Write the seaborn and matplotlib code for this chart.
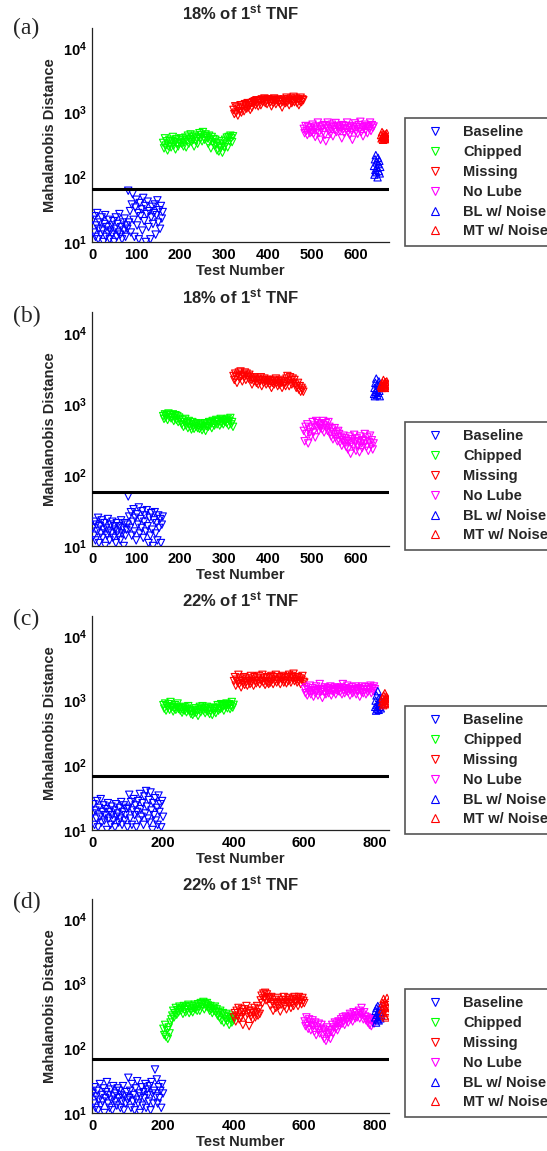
import numpy as np
import pandas as pd
import matplotlib
matplotlib.use("Agg")
import matplotlib.pyplot as plt
import seaborn as sns
from matplotlib.lines import Line2D
from matplotlib.ticker import NullLocator

# ---------------- data ----------------
categories = ["Baseline", "Chipped", "Missing", "No Lube", "BL w/ Noise", "MT w/ Noise"]
group_colors = ["#0000ff", "#00ff00", "#ff0000", "#ff00ff", "#0000ff", "#ff0000"]
group_markers = ["v", "v", "v", "v", "^", "^"]

panel_letters = ["(a)", "(b)", "(c)", "(d)"]
panel_titles = ["18% of 1$^{st}$ TNF", "18% of 1$^{st}$ TNF",
                "22% of 1$^{st}$ TNF", "22% of 1$^{st}$ TNF"]
thresholds = [66, 57, 68, 68]
x_max = [675, 675, 840, 840]
x_ticks_ab = [0, 100, 200, 300, 400, 500, 600]
x_ticks_cd = [0, 200, 400, 600, 800]
y_ticks = [10, 100, 1000, 10000]
y_tick_labels = ["$10^{1}$", "$10^{2}$", "$10^{3}$", "$10^{4}$"]

# test-number ranges of each group (first, last)
ranges_ab = [(1, 160), (161, 320), (321, 480), (481, 640), (641, 655), (657, 672)]
ranges_cd = [(1, 200), (201, 400), (401, 600), (601, 800), (801, 818), (821, 838)]

# panel (a)
a_baseline = [22, 14, 25, 12, 18, 28, 11, 16, 20, 13, 24, 15, 10, 19, 26, 12, 17, 14, 22, 11,
              15, 18, 13, 21, 10, 16, 24, 12, 19, 14, 27, 13, 17, 11, 20, 15, 23, 12, 18, 16,
              62, 20, 30, 14, 38, 55, 22, 12, 34, 45, 18, 28, 11, 40, 25, 32, 15, 48, 21, 36,
              10, 27, 42, 17, 30, 11, 24, 35, 19, 28, 38, 13, 26, 44, 20, 31, 16, 36, 23, 29]
a_chipped = [340, 280, 400, 310, 360, 260, 300, 380, 330, 290,
             360, 420, 310, 350, 270, 390, 330, 300, 370, 340,
             400, 330, 380, 300, 350, 410, 290, 370, 440, 330,
             390, 460, 350, 420, 380, 300, 440, 360, 400, 330,
             420, 480, 390, 450, 360, 500, 410, 380, 460, 430,
             400, 330, 440, 370, 280, 420, 350, 390, 310, 380,
             330, 260, 340, 250, 300, 280, 360, 240, 320, 290,
             380, 330, 410, 290, 420, 360, 440, 400, 350, 430]
a_missing = [1100, 950, 1250, 1000, 1200, 900, 1150, 1050, 1300, 1000,
             1200, 1300, 1050, 1350, 1250, 1150, 1400, 1200, 1300, 1100,
             1400, 1200, 1450, 1350, 1500, 1300, 1550, 1400, 1250, 1500,
             1550, 1300, 1600, 1450, 1500, 1650, 1400, 1550, 1350, 1600,
             1500, 1600, 1450, 1250, 1550, 1400, 1650, 1500, 1350, 1550,
             1600, 1450, 1500, 1350, 1550, 1200, 1450, 1600, 1500, 1400,
             1700, 1450, 1600, 1300, 1550, 1650, 1400, 1500, 1750, 1450,
             1550, 1650, 1400, 1600, 1300, 1500, 1700, 1450, 1600, 1550]
a_nolube = [560, 480, 620, 520, 450, 600, 540, 480, 580, 500,
            650, 470, 560, 420, 610, 530, 700, 480, 590, 380,
            550, 620, 500, 640, 450, 360, 580, 700, 520, 610,
            470, 560, 650, 430, 600, 540, 690, 500, 620, 560,
            600, 520, 580, 400, 640, 560, 480, 620, 540, 700,
            500, 580, 450, 620, 530, 380, 600, 560, 680, 510,
            590, 470, 640, 550, 720, 500, 600, 430, 580, 650,
            540, 620, 480, 600, 560, 700, 520, 640, 580, 610]
a_bl_noise = [150, 110, 190, 130, 220, 120, 170, 140, 100, 200, 160, 125, 180, 115, 145]
a_mt_noise = [450, 400, 500, 420, 380, 470, 430, 390, 410, 460, 400, 440, 480, 420, 390]

# panel (b)
b_baseline = [18, 14, 22, 12, 20, 16, 25, 11, 19, 15, 23, 13, 17, 21, 10, 18, 14, 24, 16, 12,
              20, 15, 22, 13, 19, 17, 11, 21, 16, 14, 19, 12, 23, 15, 18, 10, 21, 14, 17, 20,
              50, 26, 18, 30, 14, 22, 33, 16, 25, 12, 28, 20, 35, 15, 24, 18, 31, 13, 22, 27,
              16, 32, 19, 11, 25, 14, 29, 17, 10, 23, 30, 15, 21, 12, 27, 18, 24, 11, 20, 26]
b_chipped = [680, 620, 720, 650, 700, 600, 740, 660, 700, 630,
             660, 720, 580, 640, 700, 600, 680, 560, 650, 620,
             560, 520, 600, 480, 560, 620, 500, 540, 460, 580,
             520, 480, 440, 560, 500, 450, 520, 480, 540, 460,
             500, 450, 520, 480, 430, 500, 460, 540, 420, 490,
             520, 480, 560, 500, 540, 460, 580, 520, 500, 560,
             600, 520, 580, 560, 500, 620, 540, 600, 520, 580,
             560, 600, 540, 620, 500, 580, 640, 520, 560, 480]
b_missing = [2500, 2200, 2700, 2400, 2000, 2600, 2800, 2300, 2900, 2500,
             2100, 2600, 2400, 2800, 2200, 2700, 2500, 2300, 2600, 2400,
             2200, 1900, 2300, 2100, 2400, 2200, 2000, 2300, 1900, 2200,
             2100, 2400, 1800, 2200, 2000, 2300, 2100, 1900, 2200, 2000,
             2200, 1900, 2100, 1700, 2000, 2200, 1900, 2100, 2300, 2000,
             1800, 2100, 1900, 2200, 2000, 1700, 2100, 1900, 2000, 1800,
             2300, 2500, 2100, 1800, 2400, 2200, 1900, 2300, 2000, 2200,
             1900, 1700, 1800, 2000, 1600, 1800, 1500, 1700, 1600, 1500]
b_nolube = [420, 300, 480, 380, 520, 280, 450, 400, 350, 470,
            560, 400, 500, 340, 580, 470, 540, 420, 500, 460,
            520, 440, 580, 400, 500, 540, 460, 420, 560, 480,
            400, 350, 440, 320, 380, 460, 340, 400, 300, 420,
            380, 290, 340, 260, 310, 360, 280, 330, 250, 300,
            230, 300, 350, 200, 280, 320, 250, 370, 290, 220,
            330, 260, 300, 210, 350, 280, 240, 310, 270, 380,
            300, 250, 340, 220, 290, 360, 260, 310, 230, 280]
b_bl_noise = [1400, 1700, 1300, 2000, 1500, 2300, 1600, 1350, 1900, 1450, 1800, 2100, 1550, 1300, 1750]
b_mt_noise = [1800, 1900, 1700, 2000, 1850, 2200, 1750, 1950, 1800, 2050, 1700, 1900, 2100, 1850, 1950]

# panel (c)
c_baseline = [18, 25, 12, 20, 15, 28, 11, 22, 16, 30, 13, 19, 24, 14, 17, 21, 10, 26, 15, 19,
              12, 23, 17, 14, 20, 11, 25, 16, 18, 13, 22, 15, 27, 12, 19, 24, 14, 17, 21, 11,
              22, 35, 15, 27, 12, 20, 30, 17, 24, 11, 19, 28, 14, 36, 21, 16, 26, 12, 33, 18,
              40, 23, 15, 29, 13, 38, 20, 10, 26, 17, 31, 14, 22, 12, 34, 19, 25, 11, 28, 16]
c_chipped = [850, 750, 900, 700, 820, 780, 880, 720, 950, 800,
             800, 680, 760, 850, 720, 800, 900, 740, 780, 700,
             760, 650, 720, 800, 700, 780, 660, 740, 820, 700,
             700, 620, 680, 600, 720, 650, 760, 640, 700, 580,
             720, 800, 660, 740, 820, 700, 760, 640, 720, 800,
             680, 750, 620, 700, 780, 600, 730, 680, 760, 640,
             760, 850, 700, 800, 740, 880, 760, 820, 700, 850,
             800, 900, 760, 850, 880, 740, 820, 950, 780, 860]
c_missing = [2000, 2300, 1700, 2100, 1900, 2500, 1800, 2200, 1600, 2000,
             1850, 2300, 1750, 2100, 1950, 1700, 2200, 2000, 1800, 2400,
             1900, 2100, 1700, 2300, 2000, 1850, 2200, 1950, 2400, 1800,
             2100, 2000, 2500, 1900, 2200, 1750, 2000, 2300, 1900, 1800,
             2200, 1900, 2400, 2100, 1800, 2300, 2000, 2500, 1900, 2100,
             2000, 2300, 1800, 2200, 2100, 2400, 1900, 2000, 2200, 1850,
             2300, 2000, 2500, 2100, 1900, 2400, 2200, 2600, 2000, 2300,
             2100, 1900, 2300, 2000, 2200, 1800, 2100, 2400, 1950, 1900]
c_nolube = [1500, 1300, 1600, 1200, 1450, 1350, 1700, 1250, 1400, 1550,
            1150, 1450, 1300, 1650, 1400, 1200, 1500, 1800, 1350, 1450,
            1100, 1500, 1350, 1600, 1250, 1400, 1550, 1300, 1450, 1650,
            1200, 1400, 1500, 1350, 1600, 1250, 1450, 1550, 1400, 1500,
            1350, 1600, 1250, 1800, 1450, 1300, 1550, 1400, 1700, 1350,
            1500, 1200, 1450, 1600, 1300, 1500, 1400, 1650, 1250, 1450,
            1400, 1550, 1150, 1500, 1350, 1650, 1300, 1450, 1600, 1250,
            1500, 1350, 1600, 1450, 1700, 1300, 1550, 1400, 1650, 1500]
c_bl_noise = [800, 1000, 700, 1200, 850, 750, 1400, 900, 720, 1100, 800, 950, 1050, 760, 880]
c_mt_noise = [950, 1100, 850, 1200, 1000, 900, 1300, 1050, 880, 1150, 980, 1050, 1100, 920, 1000]

# panel (d)
d_baseline = [20, 14, 25, 12, 18, 22, 11, 16, 28, 13, 19, 15, 24, 10, 17, 21, 30, 14, 19, 12,
              23, 16, 11, 26, 18, 15, 20, 13, 24, 17, 22, 12, 19, 15, 26, 11, 18, 14, 21, 16,
              35, 17, 22, 12, 28, 15, 19, 11, 24, 16, 31, 14, 20, 10, 18, 25, 13, 21, 17, 28,
              12, 23, 19, 15, 26, 11, 30, 20, 14, 22, 47, 18, 33, 14, 25, 17, 22, 12, 28, 20]
d_chipped = [200, 160, 230, 150, 190, 140, 210, 170, 250, 280,
             320, 380, 300, 350, 420, 330, 390, 360, 440, 400,
             380, 420, 340, 450, 390, 360, 430, 400, 470, 350,
             410, 380, 450, 360, 420, 470, 400, 440, 380, 480,
             440, 380, 500, 430, 460, 520, 400, 480, 440, 500,
             460, 420, 380, 450, 400, 350, 420, 380, 440, 360,
             400, 320, 360, 300, 380, 270, 330, 350, 250, 310,
             280, 340, 260, 300, 230, 320, 280, 250, 300, 270]
d_missing = [300, 350, 260, 380, 320, 420, 280, 360, 300, 400,
             230, 360, 400, 300, 450, 340, 380, 220, 350, 310,
             380, 280, 350, 420, 300, 360, 450, 320, 400, 340,
             550, 650, 500, 700, 600, 720, 550, 680, 620, 580,
             600, 450, 620, 520, 380, 480, 560, 420, 500, 600,
             450, 520, 370, 480, 560, 500, 620, 450, 550, 400,
             520, 600, 480, 560, 420, 500, 580, 450, 620, 540,
             500, 580, 450, 620, 520, 560, 480, 600, 540, 500]
d_nolube = [260, 220, 300, 240, 200, 280, 250, 190, 230, 270,
            220, 180, 250, 160, 210, 190, 240, 170, 200, 230,
            160, 200, 140, 180, 130, 210, 150, 170, 190, 140,
            180, 230, 170, 210, 250, 200, 240, 190, 260, 220,
            250, 280, 240, 300, 260, 230, 310, 270, 290, 250,
            300, 340, 280, 320, 260, 360, 310, 290, 350, 300,
            320, 380, 290, 350, 420, 330, 280, 360, 310, 270,
            300, 250, 280, 230, 270, 220, 290, 260, 240, 280]
d_bl_noise = [300, 380, 250, 420, 330, 280, 450, 350, 270, 400, 310, 360, 290, 440, 320]
d_mt_noise = [400, 500, 350, 580, 450, 320, 520, 420, 300, 480, 380, 600, 440, 360, 520]

panel_values = [
    [a_baseline, a_chipped, a_missing, a_nolube, a_bl_noise, a_mt_noise],
    [b_baseline, b_chipped, b_missing, b_nolube, b_bl_noise, b_mt_noise],
    [c_baseline, c_chipped, c_missing, c_nolube, c_bl_noise, c_mt_noise],
    [d_baseline, d_chipped, d_missing, d_nolube, d_bl_noise, d_mt_noise],
]
panel_ranges = [ranges_ab, ranges_ab, ranges_cd, ranges_cd]

# ---------------- style ----------------
sns.set_style("white")
plt.rcParams["font.family"] = ["Liberation Sans", "DejaVu Sans"]
plt.rcParams["font.weight"] = "bold"
plt.rcParams["mathtext.fontset"] = "custom"
plt.rcParams["mathtext.default"] = "bf"
plt.rcParams["mathtext.bf"] = "Liberation Sans:bold"
plt.rcParams["mathtext.rm"] = "Liberation Sans:bold"

W, H = 547, 1151
fig = plt.figure(figsize=(W / 100, H / 100), dpi=100)

# pixel layout: (axes top, axes bottom, title y, letter y, legend top)
layout = [
    (28.4, 242, 13, 28, 118),
    (312, 546, 297, 316, 422),
    (616.4, 830, 600, 619, 706),
    (899.4, 1113, 884, 902, 989),
]
ax_left, ax_right = 92.4, 389

for i in range(4):
    top, bot, ty, ly, lt = layout[i]
    ax = fig.add_axes([ax_left / W, 1 - bot / H, (ax_right - ax_left) / W, (bot - top) / H])
    rows = []
    for g, (vals, (x0, x1)) in enumerate(zip(panel_values[i], panel_ranges[i])):
        xs = np.linspace(x0, x1, len(vals))
        for x, v in zip(xs, vals):
            rows.append((x, v, categories[g]))
    df = pd.DataFrame(rows, columns=["Test Number", "Mahalanobis Distance", "Group"])
    for g, cat in enumerate(categories):
        sub = df[df["Group"] == cat]
        sns.scatterplot(data=sub, x="Test Number", y="Mahalanobis Distance",
                        marker=group_markers[g], s=28, facecolor="none",
                        edgecolor=group_colors[g], linewidth=0.8, ax=ax,
                        legend=False, zorder=3)
    ax.axhline(thresholds[i], color="black", lw=2.2, zorder=4)
    ax.set_yscale("log")
    ax.set_ylim(10, 2e4)
    ax.set_xlim(0, x_max[i])
    ax.set_yticks(y_ticks)
    ax.set_yticklabels(y_tick_labels)
    ax.yaxis.set_minor_locator(NullLocator())
    ax.set_xticks(x_ticks_ab if i < 2 else x_ticks_cd)
    ax.tick_params(direction="in", length=3, width=0.8, labelsize=10.5, pad=4,
                   colors="black")
    for sp in ["top", "right"]:
        ax.spines[sp].set_visible(False)
    for sp in ["left", "bottom"]:
        ax.spines[sp].set_color("#222222")
        ax.spines[sp].set_linewidth(0.9)
    ax.set_xlabel("Test Number", fontsize=10.5, fontweight="bold")
    ax.set_ylabel("Mahalanobis Distance", fontsize=10.5, fontweight="bold")
    hpx = bot - top
    ax.xaxis.set_label_coords(0.5, -22 / hpx)
    ax.yaxis.set_label_coords(-0.118, 0.5)
    ax.grid(False)

    fig.text((ax_left + ax_right) / 2 / W, 1 - ty / H, panel_titles[i], ha="center",
             va="center", fontsize=12, fontweight="bold")
    fig.text(13 / W, 1 - ly / H, panel_letters[i], ha="left", va="center",
             fontsize=17, family="Liberation Serif", fontweight="normal")

    handles = [Line2D([], [], linestyle="none", marker=group_markers[g], markersize=6,
                      markerfacecolor="none", markeredgecolor=group_colors[g],
                      markeredgewidth=0.8) for g in range(6)]
    leg = ax.legend(handles, categories, loc="upper left",
                    bbox_to_anchor=(405 / W, 1 - lt / H), bbox_transform=fig.transFigure,
                    borderaxespad=0, frameon=True, fancybox=False, framealpha=1,
                    edgecolor="#555555", prop={"size": 10.5, "weight": "bold"},
                    borderpad=0.5, handlelength=3.1, handletextpad=0.37,
                    labelspacing=0.4, numpoints=1)
    leg.get_frame().set_linewidth(1.2)

fig.savefig("out.png", dpi=100)
